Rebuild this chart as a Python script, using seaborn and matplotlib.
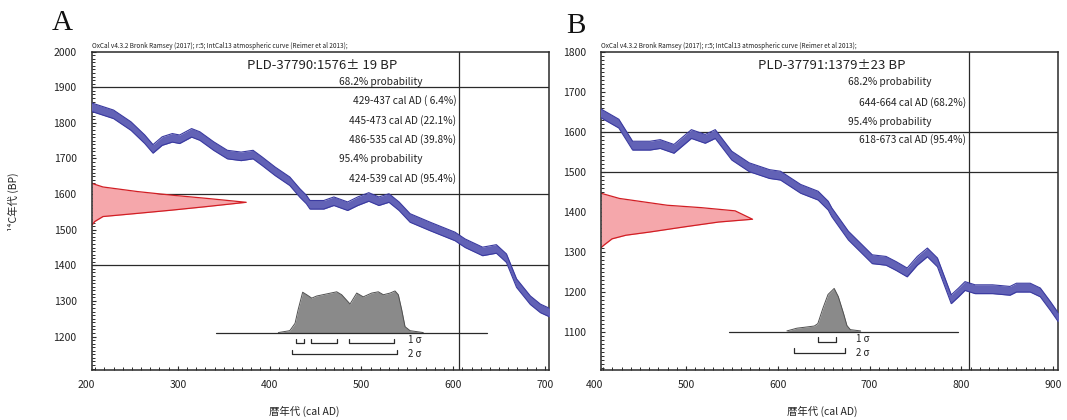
import matplotlib
matplotlib.use("Agg")
import matplotlib.pyplot as plt
import matplotlib.transforms as mtransforms
from matplotlib.ticker import MultipleLocator
import numpy as np
import seaborn as sns

# ---------------- data ----------------
HEADER = "OxCal v4.3.2 Bronk Ramsey (2017); r:5; IntCal13 atmospheric curve (Reimer et al 2013);"

# Panel A
A_title = "PLD-37790:1576\u00b1 19 BP"
A_xlim = (206.5, 704.3)
A_ylim = (1106, 2000)
A_xticks = [200, 300, 400, 500, 600, 700]
A_yticks = [1200, 1300, 1400, 1500, 1600, 1700, 1800, 1900, 2000]
A_hlines = [1900, 1600, 1400]
A_vline = 606.5
A_cal_year = [205, 230, 249, 264, 273, 283, 294, 302, 315, 324, 339, 354, 369, 382, 392,
              406, 422, 433, 440, 444, 459, 470, 485, 496, 508, 519, 530, 541, 553, 575,
              602, 613, 632, 647, 658, 669, 684, 695, 706]
A_cal_bp = [1845, 1824, 1791, 1754, 1727, 1749, 1758, 1754, 1772, 1763, 1735, 1711, 1706,
            1711, 1692, 1664, 1636, 1603, 1585, 1570, 1570, 1580, 1566, 1580, 1592, 1580,
            1589, 1566, 1533, 1509, 1481, 1462, 1439, 1446, 1420, 1350, 1302, 1279, 1266]
A_cal_err = 12
A_red_bp = [1630, 1620, 1607, 1597, 1588, 1577, 1565, 1555, 1546, 1537, 1523, 1513]
A_red_w = [0, 12, 50, 87, 125, 168, 125, 87, 50, 12, 3, 0]
A_gray_year = [409.5, 422, 427.7, 431, 436, 440.4, 445.9, 451.3, 462.2, 473.1, 478.5, 487.6,
               494.9, 502, 511.2, 518.4, 523.9, 531.2, 536.6, 540.2, 543.9, 547.5, 553, 567.4]
A_gray_prob = [0.01, 0.055, 0.23, 0.55, 0.97, 0.91, 0.83, 0.88, 0.93, 0.98, 0.91, 0.69,
               0.95, 0.86, 0.95, 0.98, 0.91, 0.95, 1.0, 0.91, 0.55, 0.15, 0.055, 0.01]
A_gray_height = 118
A_base_bp = 1210
A_base_span = [342, 637]
A_sig1 = [(429, 437), (445, 473), (486, 535)]
A_sig2 = [(424, 539)]
A_texts = ["68.2% probability", "429-437 cal AD ( 6.4%)", "445-473 cal AD (22.1%)",
           "486-535 cal AD (39.8%)", "95.4% probability", "424-539 cal AD (95.4%)"]

# Panel B
B_title = "PLD-37791:1379\u00b123 BP"
B_xlim = (407.6, 905.3)
B_ylim = (1004, 1800)
B_xticks = [400, 500, 600, 700, 800, 900]
B_yticks = [1100, 1200, 1300, 1400, 1500, 1600, 1700, 1800]
B_hlines = [1600, 1500]
B_vline = 808.5
B_cal_year = [405, 427, 442, 461, 472, 487, 506, 521, 532, 550, 569, 591, 603, 625, 644,
              655, 659, 677, 692, 703, 718, 729, 741, 752, 763, 774, 789, 797, 804, 815,
              834, 853, 860, 875, 886, 897, 907]
B_cal_bp = [1649, 1620, 1565, 1565, 1569, 1557, 1594, 1582, 1594, 1540, 1511, 1494, 1490,
            1457, 1440, 1415, 1398, 1340, 1306, 1281, 1277, 1264, 1248, 1277, 1298, 1273,
            1181, 1198, 1214, 1206, 1206, 1202, 1210, 1210, 1198, 1164, 1131]
B_cal_err = 11
B_red_bp = [1446, 1433, 1416, 1410, 1402, 1381, 1374, 1362, 1349, 1341, 1332, 1316, 1310]
B_red_w = [0, 20, 72, 109, 146, 165, 128, 91, 53, 27, 12, 3, 0]
B_gray_year = [610, 621, 628.8, 639.9, 643.7, 649.2, 654.8, 661.5, 666, 671.7, 675.4, 679.1, 690.3]
B_gray_prob = [0.016, 0.08, 0.10, 0.13, 0.185, 0.54, 0.86, 1.0, 0.81, 0.42, 0.14, 0.046, 0.016]
B_gray_height = 108
B_base_bp = 1100
B_base_span = [547, 796]
B_sig1 = [(644, 664)]
B_sig2 = [(618, 673)]
B_texts = ["68.2% probability", "644-664 cal AD (68.2%)", "95.4% probability",
           "618-673 cal AD (95.4%)"]

# ---------------- style ----------------
sns.set_theme(style="white")
plt.rcParams["font.family"] = ["Noto Sans CJK JP", "DejaVu Sans"]

BLUE_FILL = "#6262b6"
BLUE_EDGE = "#3a3aa0"
RED_FILL = "#f5a7ab"
RED_EDGE = "#d21e24"
GRAY_FILL = "#8a8a8a"
GRAY_EDGE = "#505050"
LINE_C = "#2a2a2a"

fig = plt.figure(figsize=(10.67, 4.2), dpi=100)
axA = fig.add_axes([0.0862, 0.119, 0.4283, 0.758])
axB = fig.add_axes([0.5633, 0.119, 0.4283, 0.758])


def draw_panel(ax, xlim, ylim, xticks, yticks, hlines, vline, cal_year, cal_bp, cal_err,
               red_bp, red_w, gray_year, gray_prob, gray_height, base_bp, base_span,
               sig1, sig2, title, texts, text_layout):
    ax.set_xlim(*xlim)
    ax.set_ylim(*ylim)
    ax.set_facecolor("white")

    for h in hlines:
        ax.axhline(h, color=LINE_C, lw=0.9, zorder=1)
    ax.axvline(vline, color=LINE_C, lw=0.9, zorder=1)

    # radiocarbon date (red, on the y axis)
    x0 = xlim[0]
    rx = [x0 + w for w in red_w]
    ax.fill_betweenx(red_bp, x0, rx, color=RED_FILL, lw=0, zorder=2)
    sns.lineplot(x=rx, y=red_bp, ax=ax, color=RED_EDGE, lw=0.9, sort=False,
                 estimator=None, zorder=2.5)

    # calibration curve band
    yr = np.array(cal_year, dtype=float)
    bp = np.array(cal_bp, dtype=float)
    ax.fill_between(yr, bp - cal_err, bp + cal_err, color=BLUE_FILL, lw=0, zorder=3)
    for sgn in (1, -1):
        sns.lineplot(x=yr, y=bp + sgn * cal_err, ax=ax, color=BLUE_EDGE, lw=0.8,
                     sort=False, estimator=None, zorder=3.5)

    # calibrated distribution (gray)
    gy = np.array(gray_year, dtype=float)
    gt = base_bp + np.array(gray_prob) * gray_height
    ax.fill_between(gy, base_bp, gt, color=GRAY_FILL, lw=0, zorder=4)
    sns.lineplot(x=gy, y=gt, ax=ax, color=GRAY_EDGE, lw=0.7, sort=False,
                 estimator=None, zorder=4.5)
    ax.plot(base_span, [base_bp, base_bp], color=LINE_C, lw=0.9, zorder=4.6)

    # sigma brackets
    span = ylim[1] - ylim[0]
    tk = span * 0.014
    y1 = base_bp - span * 0.032
    y2 = base_bp - span * 0.066
    for lo, hi in sig1:
        ax.plot([lo, lo, hi, hi], [y1 + tk, y1, y1, y1 + tk], color=LINE_C, lw=0.9, zorder=5)
    for lo, hi in sig2:
        ax.plot([lo, lo, hi, hi], [y2 + tk, y2, y2, y2 + tk], color=LINE_C, lw=0.9, zorder=5)
    sx = sig2[0][1] + 12
    ax.text(sx, y1 + tk * 0.6, "1 \u03c3", fontsize=7, ha="left", va="center",
            color="#222", zorder=6)
    ax.text(sx, y2 - tk * 0.1, "2 \u03c3", fontsize=7, ha="left", va="center",
            color="#222", zorder=6)

    # ticks
    ax.xaxis.set_minor_locator(MultipleLocator(10))
    ax.yaxis.set_minor_locator(MultipleLocator(10))
    ax.set_xticks([t for t in xticks if xlim[0] <= t <= xlim[1]])
    ax.set_yticks(yticks)
    ax.set_yticklabels([str(t) for t in yticks])
    ax.tick_params(axis="both", which="both", direction="in", color=LINE_C,
                   bottom=True, left=True, top=False, right=False)
    ax.tick_params(axis="both", which="major", length=3.2, width=0.8)
    ax.tick_params(axis="both", which="minor", length=2.2, width=0.7)
    ax.tick_params(axis="x", labelbottom=False)
    ax.tick_params(axis="y", labelsize=7.5, pad=11, labelcolor="#222")
    trans = mtransforms.blended_transform_factory(ax.transData, ax.transAxes)
    for t in xticks:
        ax.text(t, -0.047, str(t), transform=trans, ha="center", va="center",
                fontsize=7.5, color="#222", clip_on=False)

    for s in ax.spines.values():
        s.set_color(LINE_C)
        s.set_linewidth(1.1)
        s.set_visible(True)

    # texts
    ax.text(0.0, 1.017, HEADER, transform=ax.transAxes, ha="left", va="center",
            fontsize=4.6, color="#222")
    ax.text(0.504, 0.958, title, transform=ax.transAxes, ha="center", va="center",
            fontsize=9.5, color="#222")
    for txt, (xf, yf, ha) in zip(texts, text_layout):
        ax.text(xf, yf, txt, transform=ax.transAxes, ha=ha, va="center",
                fontsize=7.3, color="#222")


A_layout = [(0.540, 0.905, "left"), (0.797, 0.846, "right"), (0.797, 0.785, "right"),
            (0.797, 0.724, "right"), (0.540, 0.662, "left"), (0.797, 0.600, "right")]
B_layout = [(0.540, 0.905, "left"), (0.798, 0.841, "right"), (0.540, 0.780, "left"),
            (0.798, 0.724, "right")]

draw_panel(axA, A_xlim, A_ylim, A_xticks, A_yticks, A_hlines, A_vline, A_cal_year, A_cal_bp,
           A_cal_err, A_red_bp, A_red_w, A_gray_year, A_gray_prob, A_gray_height, A_base_bp,
           A_base_span, A_sig1, A_sig2, A_title, A_texts, A_layout)
draw_panel(axB, B_xlim, B_ylim, B_xticks, B_yticks, B_hlines, B_vline, B_cal_year, B_cal_bp,
           B_cal_err, B_red_bp, B_red_w, B_gray_year, B_gray_prob, B_gray_height, B_base_bp,
           B_base_span, B_sig1, B_sig2, B_title, B_texts, B_layout)

for ax in (axA, axB):
    ax.set_xlabel("")
    ax.set_ylabel("")

fig.text(62 / 1067, 1 - 23 / 420, "A", family="Liberation Serif", fontsize=21,
         ha="center", va="center", color="#111")
fig.text(575.5 / 1067, 1 - 26 / 420, "B", family="Liberation Serif", fontsize=21,
         ha="center", va="center", color="#111")
fig.text(13 / 1067, 1 - 201.5 / 420, "\u00b9\u2074C年代 (BP)", rotation=90, fontsize=7.5,
         ha="center", va="center", color="#222",
         family=["Noto Sans CJK JP", "DejaVu Sans"])
fig.text(304 / 1067, 1 - 411.5 / 420, "暦年代 (cal AD)", fontsize=7.5, ha="center",
         va="center", color="#222")
fig.text(822 / 1067, 1 - 411.5 / 420, "暦年代 (cal AD)", fontsize=7.5, ha="center",
         va="center", color="#222")

fig.savefig("out.png", dpi=100, facecolor="white")
